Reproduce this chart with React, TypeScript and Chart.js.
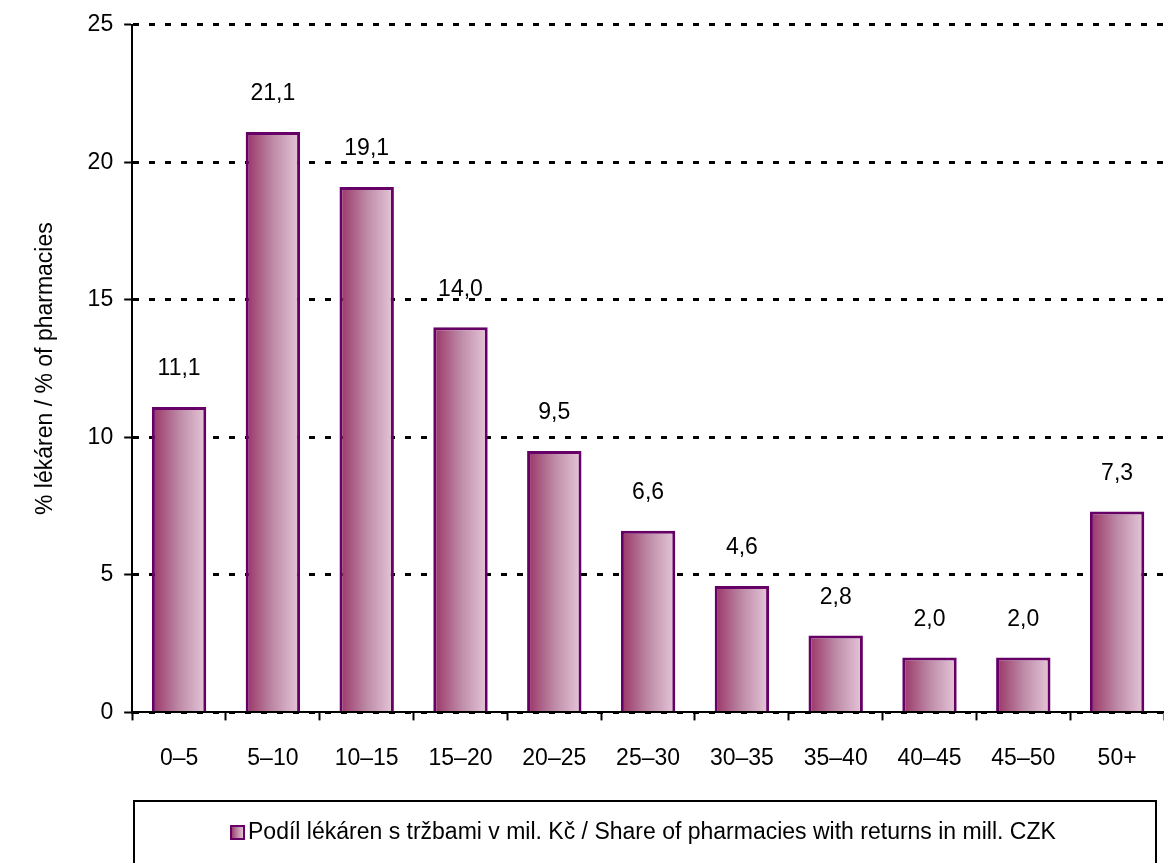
import React, { useEffect, useRef } from "react";
import { Chart, registerables } from "chart.js";

Chart.register(...registerables);

const categories = ["0–5", "5–10", "10–15", "15–20", "20–25", "25–30", "30–35", "35–40", "40–45", "45–50", "50+"];
const shares = [11.1, 21.1, 19.1, 14.0, 9.5, 6.6, 4.6, 2.8, 2.0, 2.0, 7.3];
const yTicks = [0, 5, 10, 15, 20, 25];
const seriesLabel = "Podíl lékáren s tržbami v mil. Kč / Share of pharmacies with returns in mill. CZK";
const yTitle = "% lékáren / % of pharmacies";

const FONT = "'Liberation Sans', Arial, sans-serif";
const FS = 23;
const BAR_PCT = 0.58;
const C_DARK = "#993366";
const C_MID = "#bd8aa6";
const C_LIGHT = "#e6c8da";
const BORDER = "#660066";

function makeGrad(ctx: CanvasRenderingContext2D, x0: number, x1: number) {
  const g = ctx.createLinearGradient(x0, 0, x1, 0);
  g.addColorStop(0, C_DARK);
  g.addColorStop(0.5, C_MID);
  g.addColorStop(1, C_LIGHT);
  return g;
}

const labelsPlugin = {
  id: "valueLabels",
  afterDatasetsDraw(chart: any) {
    const ctx = chart.ctx;
    const meta = chart.getDatasetMeta(0);
    ctx.save();
    ctx.font = `${FS}px ${FONT}`;
    ctx.fillStyle = "#000";
    ctx.textAlign = "center";
    ctx.textBaseline = "middle";
    meta.data.forEach((bar: any, i: number) => {
      const v = chart.data.datasets[0].data[i] as number;
      ctx.fillText(v.toFixed(1).replace(".", ","), bar.x, bar.y - 38);
    });
    ctx.restore();
  },
};

const legendBoxPlugin = {
  id: "legendBox",
  afterDraw(chart: any) {
    const ctx = chart.ctx;
    ctx.save();
    ctx.strokeStyle = "#000";
    ctx.lineWidth = 2;
    ctx.strokeRect(134, 801, 1022, 80);
    const ix = 231, iy = 826, s = 13;
    ctx.fillStyle = makeGrad(ctx, ix, ix + s);
    ctx.fillRect(ix, iy, s, s);
    ctx.strokeStyle = BORDER;
    ctx.lineWidth = 2;
    ctx.strokeRect(ix, iy, s, s);
    ctx.font = `${FS}px ${FONT}`;
    ctx.fillStyle = "#000";
    ctx.textAlign = "left";
    ctx.textBaseline = "middle";
    ctx.fillText(chart.data.datasets[0].label, 248, 833);
    ctx.restore();
  },
};

export default function App() {
  const ref = useRef<HTMLCanvasElement>(null);
  useEffect(() => {
    document.body.style.margin = "0";
    const canvas = ref.current!;
    const chart = new Chart(canvas, {
      type: "bar",
      data: {
        labels: categories,
        datasets: [
          {
            label: seriesLabel,
            data: shares,
            borderColor: BORDER,
            borderWidth: 3,
            barPercentage: BAR_PCT,
            categoryPercentage: 1,
            backgroundColor: (c: any) => {
              const ch = c.chart;
              const xs = ch.scales?.x;
              if (!xs || !ch.chartArea || c.dataIndex === undefined) return C_MID;
              const cx = xs.getPixelForValue(c.dataIndex);
              const w = (ch.chartArea.width / categories.length) * BAR_PCT;
              return makeGrad(ch.ctx, cx - w / 2, cx + w / 2);
            },
          },
        ],
      },
      options: {
        animation: false,
        responsive: false,
        devicePixelRatio: 1,
        layout: { padding: { left: 32, right: 0, top: 24, bottom: 67 } },
        plugins: { legend: { display: false }, tooltip: { enabled: false } },
        scales: {
          x: {
            grid: {
              display: true,
              drawOnChartArea: false,
              drawTicks: true,
              tickLength: 8,
              tickWidth: 2,
              tickColor: "#000",
              offset: true,
            },
            border: { display: true, color: "#000", width: 2 },
            ticks: { color: "#000", font: { family: FONT, size: FS }, padding: 24, maxRotation: 0, autoSkip: false },
          },
          y: {
            min: 0,
            max: 25,
            afterBuildTicks: (s: any) => {
              s.ticks = yTicks.map((v) => ({ value: v }));
            },
            grid: {
              color: "#000",
              lineWidth: 3,
              drawTicks: true,
              tickLength: 8,
              tickColor: "#000",
              tickWidth: 2,
              tickBorderDash: [],
            },
            border: { display: true, color: "#000", width: 2, dash: [6, 10] },
            ticks: { color: "#000", font: { family: FONT, size: FS }, padding: 11 },
            title: { display: true, text: yTitle, color: "#000", font: { family: FONT, size: FS }, padding: { top: 0, bottom: 17 } },
          },
        },
      },
      plugins: [labelsPlugin, legendBoxPlugin],
    });
    return () => chart.destroy();
  }, []);
  return (
    <div style={{ position: "absolute", left: 0, top: 0, width: 1164, height: 863 }}>
      <canvas ref={ref} width={1164} height={863} style={{ width: 1164, height: 863, display: "block" }} />
    </div>
  );
}
